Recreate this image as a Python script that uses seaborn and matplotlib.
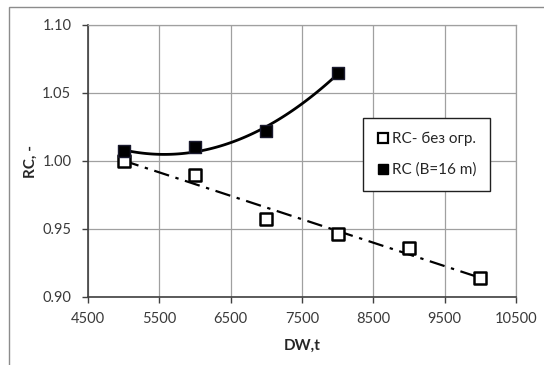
import numpy as np
import pandas as pd
import matplotlib
matplotlib.use("Agg")
import matplotlib.pyplot as plt
import seaborn as sns
from matplotlib.patches import Rectangle
from matplotlib.lines import Line2D

# Displacement (DW, t) and RC values for the two series
dw_open = [5000, 6000, 7000, 8000, 9000, 10000]
rc_open = [1.000, 0.990, 0.957, 0.946, 0.936, 0.914]
dw_fill = [5000, 6000, 7000, 8000]
rc_fill = [1.007, 1.010, 1.022, 1.065]

label_open = "RC- без огр."
label_fill = "RC (B=16 m)"
x_ticks = [4500, 5500, 6500, 7500, 8500, 9500, 10500]
y_ticks = [0.90, 0.95, 1.00, 1.05, 1.10]

sns.set_theme(style="white")
plt.rcParams["font.family"] = ["Lato", "DejaVu Sans"]

fig = plt.figure(figsize=(5.44, 3.65), dpi=100)
ax = fig.add_axes([88 / 544, 1 - 297 / 365, (516 - 88) / 544, (297 - 25) / 365])

# outer chart frame
fig.patches.append(Rectangle((9 / 544, -0.1), 1.2, (365 - 7) / 365 + 0.1,
                             transform=fig.transFigure, fill=False,
                             edgecolor="#8c8c8c", linewidth=1.0, zorder=0))

# trend lines: linear for the unrestricted series, quadratic for B=16 m
c1 = np.polyfit(dw_open, rc_open, 1)
xs1 = np.linspace(min(dw_open), max(dw_open), 100)
trend_open = pd.DataFrame({"x": xs1, "y": np.polyval(c1, xs1)})
c2 = np.polyfit(dw_fill, rc_fill, 2)
xs2 = np.linspace(min(dw_fill), max(dw_fill), 100)
trend_fill = pd.DataFrame({"x": xs2, "y": np.polyval(c2, xs2)})

sns.lineplot(data=trend_open, x="x", y="y", ax=ax, color="black", linewidth=1.6,
             dashes=False, zorder=2)
ax.lines[-1].set_dashes([7, 3, 1.5, 3])
sns.lineplot(data=trend_fill, x="x", y="y", ax=ax, color="black", linewidth=2.0, zorder=2)

df_open = pd.DataFrame({"x": dw_open, "y": rc_open})
df_fill = pd.DataFrame({"x": dw_fill, "y": rc_fill})
sns.scatterplot(data=df_open, x="x", y="y", ax=ax, marker="s", s=70,
                facecolor="white", edgecolor="black", linewidth=1.8, zorder=3)
sns.scatterplot(data=df_fill, x="x", y="y", ax=ax, marker="s", s=65,
                color="black", edgecolor="#1a1a2e", linewidth=1.0, zorder=3)

ax.set_xlim(4500, 10500)
ax.set_ylim(0.90, 1.10)
ax.set_xticks(x_ticks)
ax.set_yticks(y_ticks)
ax.set_yticklabels([f"{v:.2f}" for v in y_ticks])
ax.grid(True, color="#a0a0a0", linewidth=0.9)
ax.set_axisbelow(True)
for s in ["top", "right"]:
    ax.spines[s].set_color("#a0a0a0")
    ax.spines[s].set_linewidth(0.9)
for s in ["left", "bottom"]:
    ax.spines[s].set_color("#404040")
    ax.spines[s].set_linewidth(1.2)
ax.tick_params(axis="both", direction="out", length=4, width=1.0, color="#404040",
               labelsize=10.5, labelcolor="#3a3a3a")
ax.tick_params(axis="x", pad=7)
ax.tick_params(axis="y", pad=8)
ax.tick_params(bottom=True, left=True)

ax.set_xlabel("DW,t", fontsize=11, fontweight="bold", labelpad=9)
ax.set_ylabel("RC, -", fontsize=11, fontweight="bold", labelpad=3)

handles = [
    Line2D([], [], marker="s", linestyle="none", markerfacecolor="white",
           markeredgecolor="black", markeredgewidth=1.6, markersize=7.5),
    Line2D([], [], marker="s", linestyle="none", markerfacecolor="black",
           markeredgecolor="black", markersize=7.5),
]
leg = ax.legend(handles, [label_open, label_fill], loc="upper left",
                bbox_to_anchor=((363 - 88) / 428, (297 - 118) / 272),
                borderaxespad=0, frameon=True, fancybox=False, fontsize=11,
                handlelength=0.8, handletextpad=0.2, labelspacing=1.1,
                borderpad=0.9)
leg.get_frame().set_edgecolor("#202020")
leg.get_frame().set_linewidth(1.0)
leg.get_frame().set_facecolor("white")
leg.get_frame().set_alpha(1)

fig.savefig("out.png", dpi=100)
